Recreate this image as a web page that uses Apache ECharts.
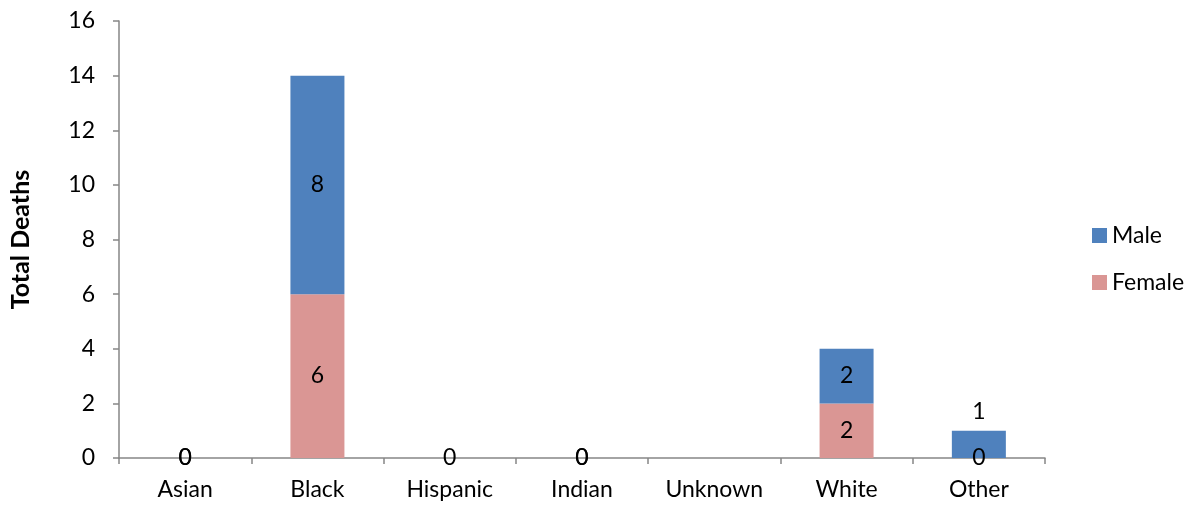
<!DOCTYPE html>
<html><head><meta charset="utf-8">
<script src="https://cdn.jsdelivr.net/npm/echarts@6/dist/echarts.min.js"></script>
<style>html,body{margin:0;padding:0;background:#fff}#c{width:1195px;height:508px}</style>
</head><body><div id="c"></div>
<script>
const categories = ['Asian','Black','Hispanic','Indian','Unknown','White','Other'];
const femaleValues = [0, 6, 0, 0, null, 2, 0];
const maleValues = [0, 8, null, 0, null, 2, 1];
const yTicks = [0,2,4,6,8,10,12,14,16];

const FONT = 'Lato, "Open Sans", sans-serif';
const FS = 23;
const chart = echarts.init(document.getElementById('c'));
const lbl = {show:true, position:'inside', color:'#000', fontSize:FS, fontFamily:FONT};
const maleData = maleValues.map((v,i)=> i===6 ? {value:v, label:{position:'top', distance:8}} : v);
chart.setOption({
  animation:false,
  grid:{left:117, right:150, top:21, bottom:50, containLabel:false},
  legend:{orient:'vertical', left:1087, top:219, itemWidth:15, itemHeight:15, itemGap:24,
    icon:'rect', textStyle:{fontSize:FS, fontFamily:FONT, color:'#000'},
    data:['Male','Female']},
  xAxis:{type:'category', data:categories,
    axisLine:{lineStyle:{color:'#868686', width:1.5}},
    axisTick:{show:true, alignWithLabel:false, length:6, lineStyle:{color:'#868686', width:1.5}},
    axisLabel:{color:'#000', fontSize:FS, fontFamily:FONT, margin:20}},
  yAxis:{type:'value', min:0, max:16, interval:2,
    name:'Total Deaths', nameLocation:'middle', nameGap:86, nameRotate:90,
    nameTextStyle:{fontSize:25, fontWeight:'bold', fontFamily:FONT, color:'#000'},
    axisLine:{show:true, lineStyle:{color:'#868686', width:1.5}},
    axisTick:{show:true, length:6, lineStyle:{color:'#868686', width:1.5}},
    splitLine:{show:false},
    axisLabel:{color:'#000', fontSize:FS, fontFamily:FONT, margin:24,
      formatter:v=> yTicks.includes(v) ? String(v) : ''}},
  series:[
    {name:'Female', type:'bar', stack:'a', data:femaleValues, barWidth:54,
      itemStyle:{color:'#DA9694'}, label:lbl},
    {name:'Male', type:'bar', stack:'a', data:maleData, barWidth:54,
      itemStyle:{color:'#4F81BD'}, label:lbl}
  ]
});
</script></body></html>
